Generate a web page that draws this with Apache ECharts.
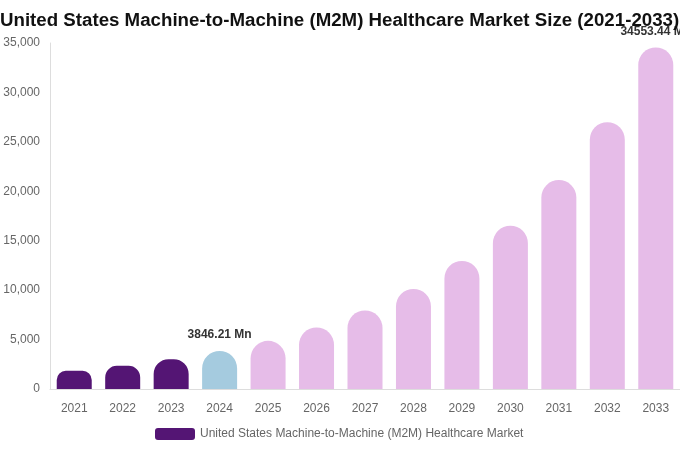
<!DOCTYPE html>
<html><head><meta charset="utf-8">
<script src="https://cdn.jsdelivr.net/npm/echarts@6/dist/echarts.min.js"></script>
<style>html,body{margin:0;padding:0;background:#fff}#c{width:680px;height:450px}</style>
</head><body><div id="c"></div>
<script>
const years = ['2021','2022','2023','2024','2025','2026','2027','2028','2029','2030','2031','2032','2033'];
const values = [1840, 2350, 3010, 3846.21, 4870, 6230, 7950, 10120, 12960, 16520, 21140, 26990, 34553.44];
const barColors = ['#541574','#541574','#541574','#a5cbdf','#e6bce8','#e6bce8','#e6bce8','#e6bce8','#e6bce8','#e6bce8','#e6bce8','#e6bce8','#e6bce8'];
const labeledIdx = [3, 12];
const seriesName = 'United States Machine-to-Machine (M2M) Healthcare Market';
const titleText = 'United States Machine-to-Machine (M2M) Healthcare Market Size (2021-2033)';

const chart = echarts.init(document.getElementById('c'));
function build(radii) {
  return {
    animation: false,
    title: { text: titleText, left: 0, top: 11, padding: 0,
      textStyle: { fontFamily: 'Liberation Sans', fontWeight: 'bold', fontSize: 18.7, color: '#111' } },
    legend: { bottom: 5, left: 150, itemWidth: 40, itemHeight: 12, itemGap: 6,
      textStyle: { fontFamily: 'Liberation Sans', fontSize: 12, color: '#666' },
      data: [{ name: seriesName, itemStyle: { color: '#541574' } }] },
    grid: { left: 50, right: 0, top: 43, bottom: 61, containLabel: false },
    xAxis: { type: 'category', data: years,
      axisLine: { lineStyle: { color: '#ddd' } }, axisTick: { show: false },
      axisLabel: { color: '#666', fontSize: 12, fontFamily: 'Liberation Sans', margin: 14 } },
    yAxis: { type: 'value', min: 0, max: 35000, interval: 5000,
      axisLine: { show: true, lineStyle: { color: '#ddd' } }, splitLine: { show: false },
      axisLabel: { color: '#666', fontSize: 12, fontFamily: 'Liberation Sans', margin: 10,
        formatter: v => v.toLocaleString('en-US') } },
    series: [{ name: seriesName, type: 'bar', barWidth: 35,
      data: values.map((v, i) => ({ value: v,
        itemStyle: { color: barColors[i], borderRadius: [radii[i], radii[i], 0, 0] },
        label: { show: labeledIdx.includes(i), position: 'top', distance: 10,
          formatter: p => p.value + ' Mn', fontWeight: 'bold', fontSize: 12,
          fontFamily: 'Liberation Sans', color: '#333' } })) }]
  };
}
chart.setOption(build(values.map(() => 17.5)));
const zeroY = chart.convertToPixel({ yAxisIndex: 0 }, 0);
const radii = values.map(v => Math.min(17.5, (zeroY - chart.convertToPixel({ yAxisIndex: 0 }, v)) / 2));
chart.setOption(build(radii));
</script></body></html>
